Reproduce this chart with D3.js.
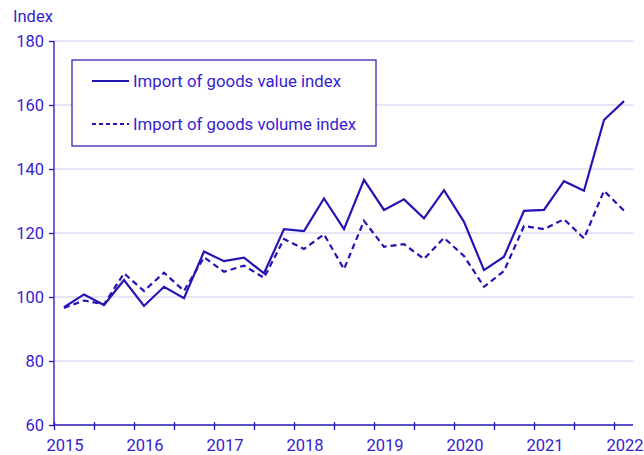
<!DOCTYPE html>
<html>
<head>
<meta charset="utf-8">
<script src="https://cdn.jsdelivr.net/npm/d3@7"></script>
<style>
  body { margin: 0; background: #fff; }
  svg { display: block; font-family: Roboto, "Noto Sans", sans-serif; }
</style>
</head>
<body>
<svg id="chart" width="644" height="455"></svg>
<script>
const quarters = [
  "2015Q1","2015Q2","2015Q3","2015Q4",
  "2016Q1","2016Q2","2016Q3","2016Q4",
  "2017Q1","2017Q2","2017Q3","2017Q4",
  "2018Q1","2018Q2","2018Q3","2018Q4",
  "2019Q1","2019Q2","2019Q3","2019Q4",
  "2020Q1","2020Q2","2020Q3","2020Q4",
  "2021Q1","2021Q2","2021Q3","2021Q4",
  "2022Q1"
];
const valueIndex = [
  96.8, 100.8, 97.5, 105.3,
  97.2, 103.2, 99.6, 114.2,
  111.2, 112.3, 107.4, 121.2,
  120.6, 130.8, 121.2, 136.6,
  127.2, 130.5, 124.6, 133.4,
  123.5, 108.4, 112.6, 126.9,
  127.2, 136.2, 133.2, 155.3,
  161.2
];
const volumeIndex = [
  96.6, 98.9, 97.7, 107.4,
  101.9, 107.6, 101.9, 112.4,
  107.9, 109.8, 106.0, 118.1,
  115.0, 119.6, 108.7, 123.8,
  115.7, 116.5, 111.9, 118.5,
  112.8, 103.2, 108.1, 122.2,
  121.2, 124.3, 118.3, 133.2,
  127.0
];
const yearLabels = ["2015","2016","2017","2018","2019","2020","2021","2022"];
const yTicks = [60, 80, 100, 120, 140, 160, 180];
const seriesNames = ["Import of goods value index", "Import of goods volume index"];

const lineColor = "#2414b4";
const textColor = "#3422d2";
const gridColor = "#dedbf4";

const svg = d3.select("#chart");
const mLeft = 54, mRight = 633, mTop = 41, mBottom = 425;

const x = d3.scaleLinear().domain([-0.5, 28.45]).range([mLeft, mRight]);
const y = d3.scaleLinear().domain([60, 180]).range([mBottom, mTop]);

// gridlines
svg.append("g").selectAll("line").data(yTicks.filter(d => d > 60)).join("line")
  .attr("x1", mLeft).attr("x2", mRight)
  .attr("y1", d => y(d)).attr("y2", d => y(d))
  .attr("stroke", gridColor).attr("stroke-width", 1.3);

// y axis
const yAxis = svg.append("g").attr("transform", `translate(${mLeft},0)`)
  .call(d3.axisLeft(y).tickValues(yTicks).tickSize(5).tickPadding(5));
yAxis.select(".domain").attr("stroke", lineColor).attr("stroke-width", 1.3)
  .attr("d", `M0,${mBottom}V${mTop}`);
yAxis.selectAll(".tick line").attr("stroke", lineColor).attr("stroke-width", 1.3);
yAxis.selectAll(".tick text").attr("fill", textColor).style("font-size", "16.5px")
  .style("font-family", "Roboto, sans-serif");

// x axis
const halfYearTicks = d3.range(0, 15).map(k => -0.5 + 2 * k);
const xAxis = svg.append("g").attr("transform", `translate(0,${mBottom})`)
  .call(d3.axisBottom(x).tickValues(halfYearTicks).tickSize(5).tickFormat(""));
xAxis.select(".domain").attr("stroke", lineColor).attr("stroke-width", 1.3)
  .attr("d", `M${mLeft},0H${mRight}`);
xAxis.selectAll(".tick line").attr("stroke", lineColor).attr("stroke-width", 1.3)
  .attr("y1", -3);

svg.append("g").selectAll("text").data(yearLabels).join("text")
  .attr("x", (d, i) => x(i * 4) + 1)
  .attr("y", 451)
  .attr("text-anchor", "middle")
  .attr("fill", textColor)
  .style("font-size", "16.5px")
  .text(d => d);

// y axis title
svg.append("text").attr("x", 13).attr("y", 22)
  .attr("fill", textColor).style("font-size", "16.5px").text("Index");

// lines
const line = d3.line().x((d, i) => x(i)).y(d => y(d));
svg.append("path").datum(valueIndex)
  .attr("d", line).attr("fill", "none")
  .attr("stroke", lineColor).attr("stroke-width", 2.2).attr("stroke-linejoin", "miter");
svg.append("path").datum(volumeIndex)
  .attr("d", line).attr("fill", "none")
  .attr("stroke", lineColor).attr("stroke-width", 2.2).attr("stroke-dasharray", "6,4");

// legend
const lg = svg.append("g");
lg.append("rect").attr("x", 72).attr("y", 60).attr("width", 304).attr("height", 86)
  .attr("fill", "#fff").attr("stroke", lineColor).attr("stroke-width", 1.2);
const legendRows = [
  { name: seriesNames[0], dash: null, yy: 81 },
  { name: seriesNames[1], dash: "4,3", yy: 124 }
];
legendRows.forEach(r => {
  lg.append("line").attr("x1", 92).attr("x2", 129).attr("y1", r.yy).attr("y2", r.yy)
    .attr("stroke", lineColor).attr("stroke-width", 2)
    .attr("stroke-dasharray", r.dash);
  lg.append("text").attr("x", 133).attr("y", r.yy + 5.5)
    .attr("fill", textColor).style("font-size", "16.8px").text(r.name);
});
</script>
</body>
</html>
